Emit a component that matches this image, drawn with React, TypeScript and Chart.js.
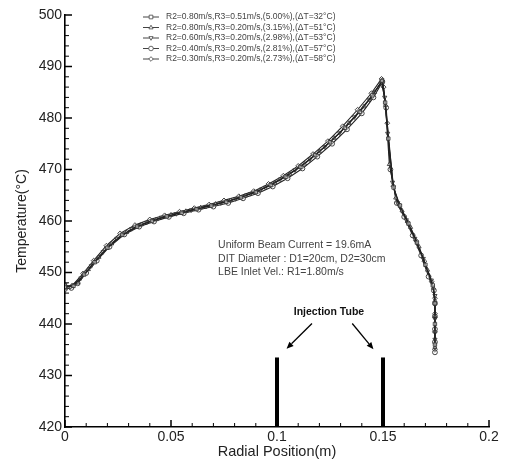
import React, { useEffect, useRef } from 'react';
import { Chart, registerables } from 'chart.js';

Chart.register(...registerables);

const X_TICKS = [0, 0.05, 0.1, 0.15, 0.2];
const Y_TICKS = [420, 430, 440, 450, 460, 470, 480, 490, 500];

const LABELS = [
  'R2=0.80m/s,R3=0.51m/s,(5.00%),(\u0394T=32\u00B0C)',
  'R2=0.80m/s,R3=0.20m/s,(3.15%),(\u0394T=51\u00B0C)',
  'R2=0.60m/s,R3=0.20m/s,(2.98%),(\u0394T=53\u00B0C)',
  'R2=0.40m/s,R3=0.20m/s,(2.81%),(\u0394T=57\u00B0C)',
  'R2=0.30m/s,R3=0.20m/s,(2.73%),(\u0394T=58\u00B0C)',
];

const S1_X = [0, 0.004, 0.009, 0.014, 0.02, 0.027, 0.034, 0.041, 0.048, 0.055, 0.062, 0.069, 0.076, 0.083, 0.09, 0.097, 0.104, 0.111, 0.118, 0.125, 0.132, 0.139, 0.145, 0.1495, 0.151, 0.1525, 0.155, 0.158, 0.162, 0.166, 0.17, 0.1735, 0.1745, 0.1745, 0.1745];
const S1_T = [447.2, 447.4, 449.6, 452.0, 454.8, 457.3, 458.9, 460.0, 460.9, 461.6, 462.3, 463.0, 463.7, 464.6, 465.6, 467.0, 468.6, 470.5, 472.8, 475.3, 478.1, 481.2, 484.4, 487.2, 483.0, 476.0, 466.5, 463.0, 459.5, 455.8, 451.5, 447.5, 444.0, 440.0, 436.0];

const S2_X = [0, 0.006, 0.011, 0.016, 0.022, 0.029, 0.036, 0.043, 0.05, 0.057, 0.064, 0.071, 0.078, 0.085, 0.092, 0.099, 0.106, 0.113, 0.12, 0.127, 0.134, 0.141, 0.146, 0.1498, 0.1512, 0.153, 0.156, 0.159, 0.163, 0.167, 0.171, 0.1738, 0.1745, 0.1745, 0.1745, 0.1745];
const S2_T = [447.0, 448.0, 450.6, 453.0, 455.6, 457.8, 459.3, 460.3, 461.2, 461.9, 462.6, 463.3, 464.0, 464.9, 466.0, 467.4, 469.1, 471.1, 473.5, 476.1, 479.0, 482.2, 485.0, 487.4, 482.5, 471.0, 464.5, 462.0, 458.8, 455.0, 450.5, 447.0, 444.5, 441.5, 438.5, 435.5];

const S3_X = [0, 0.0025, 0.0075, 0.0125, 0.018, 0.0245, 0.0315, 0.0385, 0.0455, 0.0525, 0.0595, 0.0665, 0.0735, 0.0805, 0.0875, 0.0945, 0.1015, 0.1085, 0.1155, 0.1225, 0.1295, 0.1365, 0.1435, 0.1492, 0.1508, 0.1522, 0.1545, 0.157, 0.161, 0.165, 0.169, 0.1728, 0.1745, 0.1745, 0.1745];
const S3_T = [447.6, 447.2, 448.9, 451.3, 454.0, 456.6, 458.5, 459.7, 460.7, 461.4, 462.1, 462.8, 463.5, 464.3, 465.3, 466.5, 468.1, 469.9, 472.0, 474.4, 477.1, 480.2, 483.6, 486.9, 484.0, 477.0, 467.5, 463.5, 460.2, 456.6, 452.7, 448.5, 445.5, 441.0, 437.0];

const S4_X = [0, 0.003, 0.006, 0.01, 0.015, 0.021, 0.028, 0.035, 0.042, 0.049, 0.056, 0.063, 0.07, 0.077, 0.084, 0.091, 0.098, 0.105, 0.112, 0.119, 0.126, 0.133, 0.14, 0.1455, 0.1497, 0.1515, 0.1535, 0.1565, 0.16, 0.164, 0.168, 0.1715, 0.174, 0.1745, 0.1745, 0.1745, 0.1745, 0.1745];
const S4_T = [446.8, 447.0, 447.9, 449.9, 452.3, 455.0, 457.4, 458.9, 459.9, 460.8, 461.5, 462.2, 462.8, 463.5, 464.4, 465.4, 466.7, 468.3, 470.2, 472.5, 475.0, 477.8, 480.9, 484.0, 487.0, 482.0, 470.0, 463.5, 460.8, 457.2, 453.3, 449.2, 446.5, 444.0, 441.5, 439.0, 436.5, 434.5];

const S5_X = [0, 0.0035, 0.0085, 0.0135, 0.0195, 0.026, 0.033, 0.04, 0.047, 0.054, 0.061, 0.068, 0.075, 0.082, 0.089, 0.096, 0.103, 0.11, 0.117, 0.124, 0.131, 0.138, 0.1445, 0.1493, 0.1503, 0.152, 0.1548, 0.1575, 0.1615, 0.1655, 0.1695, 0.173, 0.1745, 0.1745, 0.1745, 0.1745];
const S5_T = [447.3, 447.5, 449.8, 452.3, 455.2, 457.6, 459.2, 460.3, 461.1, 461.8, 462.5, 463.2, 464.0, 464.8, 465.8, 467.2, 468.8, 470.7, 473.0, 475.5, 478.4, 481.6, 484.8, 487.6, 486.0, 479.0, 466.8, 463.2, 459.8, 456.2, 452.2, 448.2, 445.0, 442.0, 438.5, 435.0];

const TUBE_X = [0.1, 0.15];
const TUBE_T = [420, 433.5];

const ANNOT_LINES = [
  'Uniform Beam Current = 19.6mA',
  'DIT Diameter : D1=20cm, D2=30cm',
  'LBE Inlet Vel.: R1=1.80m/s',
];
const TUBE_LABEL = 'Injection Tube';

const FONT = 'Arial, "Liberation Sans", Helvetica, sans-serif';

const toPts = (xs: number[], ts: number[]) => xs.map((x, i) => ({ x, y: ts[i] }));

const STYLES: { pointStyle: any; rotation: number }[] = [
  { pointStyle: 'rect', rotation: 0 },
  { pointStyle: 'triangle', rotation: 0 },
  { pointStyle: 'triangle', rotation: 180 },
  { pointStyle: 'circle', rotation: 0 },
  { pointStyle: 'rectRot', rotation: 0 },
];

const SERIES = [
  [S1_X, S1_T],
  [S2_X, S2_T],
  [S3_X, S3_T],
  [S4_X, S4_T],
  [S5_X, S5_T],
];

function drawPointShape(ctx: CanvasRenderingContext2D, style: string, rotation: number, x: number, y: number, r: number) {
  ctx.save();
  ctx.translate(x, y);
  ctx.rotate((rotation * Math.PI) / 180);
  ctx.beginPath();
  if (style === 'rect') {
    ctx.rect(-r * 0.8, -r * 0.8, r * 1.6, r * 1.6);
  } else if (style === 'triangle') {
    ctx.moveTo(0, -r);
    ctx.lineTo(r * 0.9, r * 0.6);
    ctx.lineTo(-r * 0.9, r * 0.6);
    ctx.closePath();
  } else if (style === 'circle') {
    ctx.arc(0, 0, r, 0, Math.PI * 2);
  } else {
    ctx.moveTo(0, -r);
    ctx.lineTo(r, 0);
    ctx.lineTo(0, r);
    ctx.lineTo(-r, 0);
    ctx.closePath();
  }
  ctx.fill();
  ctx.stroke();
  ctx.restore();
}

const decorPlugin = {
  id: 'decor',
  afterDraw(chart: any) {
    const ctx: CanvasRenderingContext2D = chart.ctx;
    const xs = chart.scales.x;
    const ys = chart.scales.y;
    const a = chart.chartArea;
    ctx.save();
    // inward ticks
    ctx.strokeStyle = '#000';
    for (let i = 0; i <= 20; i++) {
      const v = i * 0.01;
      const px = xs.getPixelForValue(v);
      const major = i % 5 === 0;
      ctx.lineWidth = major ? 1.5 : 1;
      ctx.beginPath();
      ctx.moveTo(px, a.bottom);
      ctx.lineTo(px, a.bottom - (major ? 7 : 4));
      ctx.stroke();
    }
    for (let i = 0; i <= 40; i++) {
      const v = 420 + i * 2;
      const py = ys.getPixelForValue(v);
      const major = i % 5 === 0;
      ctx.lineWidth = major ? 1.5 : 1;
      ctx.beginPath();
      ctx.moveTo(a.left, py);
      ctx.lineTo(a.left + (major ? 7 : 4), py);
      ctx.stroke();
    }

    // legend
    ctx.font = `8.5px ${FONT}`;
    ctx.textBaseline = 'middle';
    ctx.textAlign = 'left';
    const legendRows = [17, 27.5, 38, 48.5, 59];
    LABELS.forEach((lab, i) => {
      const y = legendRows[i];
      ctx.strokeStyle = '#444';
      ctx.lineWidth = 1;
      ctx.beginPath();
      ctx.moveTo(143, y);
      ctx.lineTo(159, y);
      ctx.stroke();
      ctx.fillStyle = '#fff';
      ctx.strokeStyle = '#444';
      ctx.lineWidth = 0.8;
      drawPointShape(ctx, STYLES[i].pointStyle, STYLES[i].rotation, 151, y, 2.3);
      ctx.fillStyle = '#444';
      ctx.fillText(lab, 166, y);
    });

    // annotation block
    ctx.font = `10.5px ${FONT}`;
    ctx.fillStyle = '#444';
    const ax = xs.getPixelForValue(0.0722);
    const aRows = [455.3, 452.6, 450.0];
    ANNOT_LINES.forEach((t, i) => {
      ctx.fillText(t, ax, ys.getPixelForValue(aRows[i]));
    });

    // injection tube label and arrows
    ctx.font = `bold 10.5px ${FONT}`;
    ctx.fillStyle = '#111';
    ctx.textAlign = 'center';
    ctx.fillText(TUBE_LABEL, xs.getPixelForValue(0.1245), ys.getPixelForValue(442.3));
    const arrows = [
      [0.1165, 440.1, 0.1045, 435.2],
      [0.1355, 440.1, 0.1455, 435.1],
    ];
    ctx.strokeStyle = '#000';
    ctx.fillStyle = '#000';
    ctx.lineWidth = 1.3;
    arrows.forEach(([x0, y0, x1, y1]) => {
      const p0x = xs.getPixelForValue(x0), p0y = ys.getPixelForValue(y0);
      const p1x = xs.getPixelForValue(x1), p1y = ys.getPixelForValue(y1);
      const ang = Math.atan2(p1y - p0y, p1x - p0x);
      const hl = 7, hw = 3;
      const bx = p1x - hl * Math.cos(ang), by = p1y - hl * Math.sin(ang);
      ctx.beginPath();
      ctx.moveTo(p0x, p0y);
      ctx.lineTo(bx, by);
      ctx.stroke();
      ctx.beginPath();
      ctx.moveTo(p1x, p1y);
      ctx.lineTo(bx + hw * Math.sin(ang), by - hw * Math.cos(ang));
      ctx.lineTo(bx - hw * Math.sin(ang), by + hw * Math.cos(ang));
      ctx.closePath();
      ctx.fill();
    });
    ctx.restore();
  },
};

export default function App() {
  const ref = useRef<HTMLCanvasElement | null>(null);
  useEffect(() => {
    if (!ref.current) return;
    const datasets: any[] = SERIES.map(([xs, ts], i) => ({
      label: LABELS[i],
      data: toPts(xs, ts),
      showLine: true,
      borderColor: '#222',
      borderWidth: 1.1,
      pointStyle: STYLES[i].pointStyle,
      rotation: STYLES[i].rotation,
      pointRadius: 2.4,
      pointBorderWidth: 0.9,
      pointBorderColor: '#333',
      pointBackgroundColor: 'rgba(255,255,255,0.5)',
      tension: 0,
    }));
    TUBE_X.forEach((x) => {
      datasets.push({
        label: 'tube',
        data: TUBE_T.map((t) => ({ x, y: t })),
        showLine: true,
        borderColor: '#000',
        borderWidth: 4,
        pointRadius: 0,
        borderCapStyle: 'butt',
      });
    });
    const chart = new Chart(ref.current, {
      type: 'scatter',
      data: { datasets },
      options: {
        animation: false,
        responsive: false,
        maintainAspectRatio: false,
        layout: { padding: { left: 14, top: 15, right: 17, bottom: 4 } },
        plugins: { legend: { display: false }, tooltip: { enabled: false } },
        scales: {
          x: {
            type: 'linear',
            min: 0,
            max: 0.2,
            afterBuildTicks: (s: any) => { s.ticks = X_TICKS.map((v) => ({ value: v })); },
            afterFit: (s: any) => { s.height = 34; },
            ticks: {
              color: '#222',
              padding: 2,
              font: { family: FONT, size: 14 },
              maxRotation: 0,
              callback: (v: any) => String(Number(Number(v).toFixed(2))),
            },
            grid: { display: false, drawTicks: false },
            border: { display: true, color: '#000', width: 1.6 },
            title: { display: true, text: 'Radial Position(m)', color: '#222', font: { family: FONT, size: 14.5 }, padding: 0 },
          },
          y: {
            type: 'linear',
            min: 420,
            max: 500,
            afterBuildTicks: (s: any) => { s.ticks = Y_TICKS.map((v) => ({ value: v })); },
            afterFit: (s: any) => { s.width = 51; },
            ticks: { color: '#222', padding: 3, font: { family: FONT, size: 14 } },
            grid: { display: false, drawTicks: false },
            border: { display: true, color: '#000', width: 1.6 },
            title: { display: true, text: 'Temperature(\u00B0C)', color: '#222', font: { family: FONT, size: 14 }, padding: 0 },
          },
        },
      },
      plugins: [decorPlugin],
    });
    return () => chart.destroy();
  }, []);
  return (
    <div style={{ position: 'fixed', left: 0, top: 0, width: 506, height: 465, background: '#fff' }}>
      <canvas ref={ref} width={506} height={465} style={{ width: 506, height: 465 }} />
    </div>
  );
}
